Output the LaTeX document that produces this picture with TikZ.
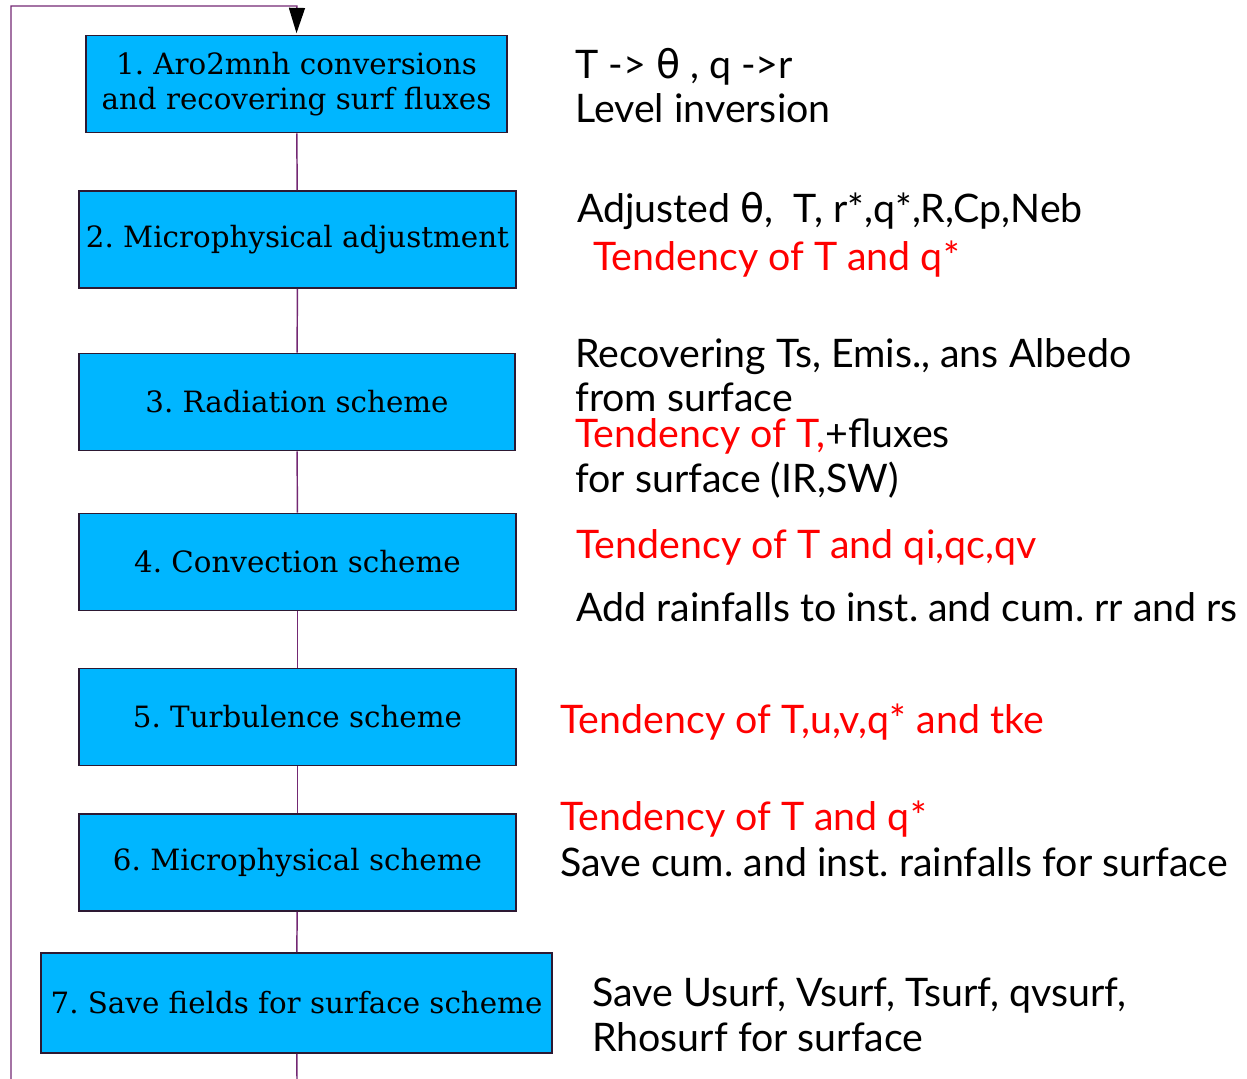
\documentclass[tikz,border=0pt]{standalone}
\usepackage{fontspec}
\setmainfont{Lato}
\newfontfamily\boxfont{DejaVu Serif}
\newfontfamily\grk{DejaVu Sans}
\usetikzlibrary{arrows.meta}
\definecolor{stepfill}{RGB}{0,182,255}
\definecolor{stepedge}{RGB}{45,25,50}
\definecolor{flow}{RGB}{115,40,115}
\definecolor{tend}{RGB}{255,0,0}
\frenchspacing
\tikzset{
  stepbox/.style={draw=stepedge, line width=1.2pt, fill=stepfill, inner sep=0pt,
    minimum height=73pt, align=center, font=\boxfont\fontsize{22}{26.5}\selectfont},
  flowline/.style={draw=flow, line width=1.1pt},
  note/.style={anchor=base west, inner sep=0pt, font=\fontsize{29.5}{34}\selectfont},
  red note/.style={note, text=tend},
}
\begin{document}
\begin{tikzpicture}[x=0.75pt, y=-0.75pt]
\useasboundingbox (0,0) rectangle (1247,1079);

% process steps
\node[stepbox, minimum width=316pt] (b1) at (296.5,84) {1. Aro2mnh conversions\\and recovering surf fluxes};
\node[stepbox, minimum width=328pt] (b2) at (297.5,239.5) {2. Microphysical adjustment};
\node[stepbox, minimum width=327pt] (b3) at (297,402) {3. Radiation scheme};
\node[stepbox, minimum width=328pt] (b4) at (297.5,562) {4. Convection scheme};
\node[stepbox, minimum width=328pt] (b5) at (297.5,717) {5. Turbulence scheme};
\node[stepbox, minimum width=328pt] (b6) at (297.5,862.5) {6. Microphysical scheme};
\node[stepbox, minimum width=383pt, minimum height=75pt] (b7) at (296.5,1003) {7. Save fields for surface scheme};

% connectors between steps
\coordinate (bot) at (297,1079);
\coordinate (botleft) at (11,1079);
\coordinate (topleft) at (11,6);
\coordinate (topmid) at (297,6);
\draw[flowline] (b1) -- (b2);
\draw[flowline] (b2) -- (b3);
\draw[flowline] (b3) -- (b4);
\draw[flowline] (b4) -- (b5);
\draw[flowline] (b5) -- (b6);
\draw[flowline] (b6) -- (b7);
\draw[flowline] (b7) -- (bot);
\draw[flowline, -{Triangle[length=19pt, width=12pt, color=black, fill=black]}]
  (botleft) -- (topleft) -- (topmid) -- ([yshift=1pt]b1.north);

% notes
\node[note] (n1a) at (575,78) {T -> {\grk θ} , q ->r};
\node[note] (n1b) at (575,122) {Level inversion};
\node[note] (n2a) at (577,222) {Adjusted {\grk θ},\ \ T, r*,q*,R,Cp,Neb};
\node[red note] (n2b) at (593,270) {Tendency of T and q*};
\node[note] (n3a) at (575,367) {Recovering Ts, Emis., ans Albedo};
\node[note] (n3b) at (575,411) {from surface};
\node[note] (n3c) at (575,447) {\textcolor{tend}{Tendency of T,}+fluxes};
\node[note] (n3d) at (575,492) {for surface (IR,SW)};
\node[red note] (n4a) at (576,558) {Tendency of T and qi,qc,qv};
\node[note] (n4b) at (576,621) {Add rainfalls to inst. and cum. rr and rs};
\node[red note] (n5) at (560,733) {Tendency of T,u,v,q* and tke};
\node[red note] (n6a) at (560,830) {Tendency of T and q*};
\node[note] (n6b) at (560,876) {Save cum. and inst. rainfalls for surface};
\node[note] (n7a) at (592,1006) {Save Usurf, Vsurf, Tsurf, qvsurf,};
\node[note] (n7b) at (592,1051) {Rhosurf for surface};
\end{tikzpicture}
\end{document}
